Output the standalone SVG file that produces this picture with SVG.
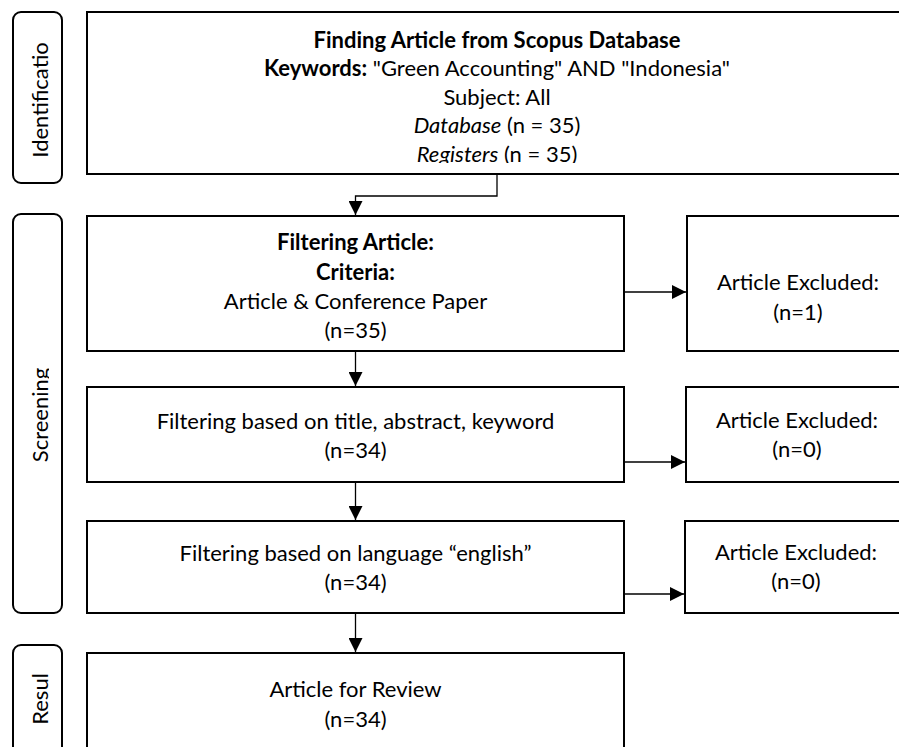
<svg xmlns="http://www.w3.org/2000/svg" width="899" height="747" viewBox="0 0 899 747">
<defs>
<marker id="arr" markerWidth="14" markerHeight="14" refX="14" refY="7" orient="auto" markerUnits="userSpaceOnUse"><path d="M0,0 L14,7 L0,14 Z" fill="#000"/></marker>
<clipPath id="clipReg"><rect x="87" y="0" width="812" height="163"/></clipPath>
<clipPath id="clipScr"><rect x="0" y="214" width="49" height="400"/></clipPath>
</defs>
<style>
rect{fill:#fff;stroke:#000;stroke-width:2}
text{font-family:Lato,"Liberation Sans",sans-serif;font-size:22px;fill:#000;text-anchor:middle}
.b{font-weight:bold}
.i{font-style:italic}
.conn{fill:none;stroke:#000;stroke-width:1.3}
</style>
<rect width="899" height="747" style="stroke:none"/>

<g id="stage-identification">
<rect x="13" y="12" width="49" height="171" rx="8"/>
<text transform="translate(48,100) rotate(-90)">Identificatio</text>
</g>
<g id="stage-screening">
<rect x="13" y="214" width="49" height="399" rx="8"/>
<g clip-path="url(#clipScr)">
<text transform="translate(48,415) rotate(-90)">Screening</text>
</g>
</g>
<g id="stage-result">
<rect x="13" y="645" width="49" height="130" rx="8"/>
<text transform="translate(48,699) rotate(-90)">Resul</text>
</g>

<g id="node-finding">
<rect x="87" y="12" width="830" height="162"/>
<text x="497" y="47.5" class="b">Finding Article from Scopus Database</text>
<text x="497" y="76"><tspan class="b">Keywords:</tspan> "Green Accounting" AND "Indonesia"</text>
<text x="497" y="104.5">Subject: All</text>
<text x="497" y="133"><tspan class="i">Database</tspan> (n = 35)</text>
<g clip-path="url(#clipReg)">
<text x="497" y="161.5"><tspan class="i">Registers</tspan> (n = 35)</text>
</g>
</g>

<g id="node-filtering">
<rect x="87" y="216" width="537" height="135"/>
<text x="355.5" y="250" class="b">Filtering Article:</text>
<text x="355.5" y="280" class="b">Criteria:</text>
<text x="355.5" y="309">Article &amp; Conference Paper</text>
<text x="355.5" y="338">(n=35)</text>
</g>
<g id="node-excluded-1">
<rect x="687" y="216" width="240" height="135"/>
<text x="798" y="290">Article Excluded:</text>
<text x="798" y="320">(n=1)</text>
</g>

<g id="node-title">
<rect x="87" y="387" width="537" height="95"/>
<text x="355.5" y="429">Filtering based on title, abstract, keyword</text>
<text x="355.5" y="458">(n=34)</text>
</g>
<g id="node-excluded-2">
<rect x="686" y="387" width="240" height="95"/>
<text x="797" y="428">Article Excluded:</text>
<text x="797" y="457">(n=0)</text>
</g>

<g id="node-language">
<rect x="87" y="521" width="537" height="92"/>
<text x="355.5" y="561">Filtering based on language “english”</text>
<text x="355.5" y="590">(n=34)</text>
</g>
<g id="node-excluded-3">
<rect x="685" y="521" width="240" height="92"/>
<text x="796" y="560">Article Excluded:</text>
<text x="796" y="589">(n=0)</text>
</g>

<g id="node-review">
<rect x="87" y="653" width="537" height="120"/>
<text x="355.5" y="697">Article for Review</text>
<text x="355.5" y="727">(n=34)</text>
</g>

<g id="connectors">
<path class="conn" d="M497,175 V196 H355.5 V215" marker-end="url(#arr)"/>
<path class="conn" d="M355.5,352 V386" marker-end="url(#arr)"/>
<path class="conn" d="M355.5,483 V520" marker-end="url(#arr)"/>
<path class="conn" d="M355.5,614 V652" marker-end="url(#arr)"/>
<path class="conn" d="M625,292 H686" marker-end="url(#arr)"/>
<path class="conn" d="M625,462 H685" marker-end="url(#arr)"/>
<path class="conn" d="M625,594 H684" marker-end="url(#arr)"/>
</g>
</svg>
